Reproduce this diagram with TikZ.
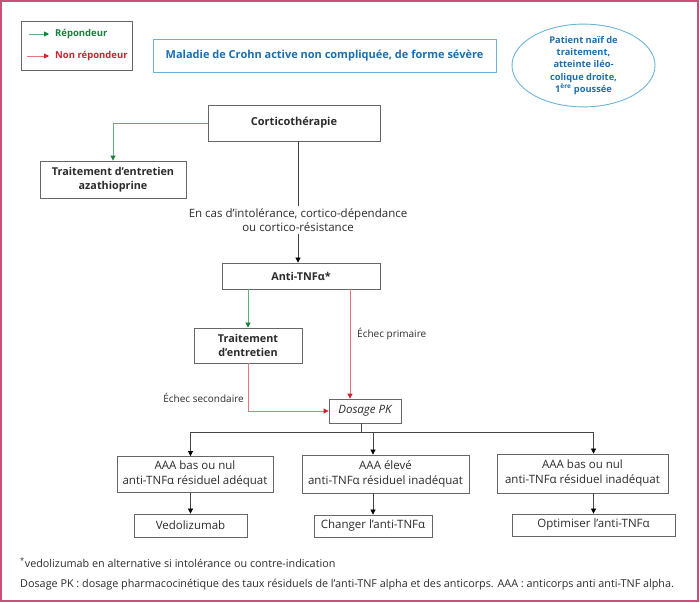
\documentclass[tikz,border=0pt]{standalone}
\usepackage{fontspec}
\setmainfont{Open Sans}
\usetikzlibrary{arrows.meta,shapes.geometric,calc}
\definecolor{framec}{HTML}{C94F77}
\definecolor{boxc}{HTML}{666666}
\definecolor{txt}{HTML}{2B2B2B}
\definecolor{tblue}{HTML}{1C6FAE}
\definecolor{tborder}{HTML}{6AB4D8}
\definecolor{gline}{HTML}{5CB07E}
\definecolor{gtip}{HTML}{17803A}
\definecolor{rline}{HTML}{E8737B}
\definecolor{rtip}{HTML}{D0202C}
\definecolor{lnc}{HTML}{444444}
\begin{document}
\begin{tikzpicture}[x=1pt,y=-1pt,
  box/.style={draw=boxc, line width=0.8pt, fill=white, inner sep=0pt, align=center, text=txt, font=\fontsize{11.5}{15}\selectfont},
  bbox/.style={box, font=\fontsize{10.8}{14.5}\selectfont\bfseries},
  plain/.style={inner sep=2pt, align=center, text=txt, font=\fontsize{10}{14}\selectfont},
  blkln/.style={draw=lnc, line width=0.7pt},
  blkarr/.style={blkln, -{Triangle[width=5pt,length=5pt,color=black,fill=black]}},
  grnarr/.style={draw=gline, line width=0.8pt, -{Triangle[width=5pt,length=5pt,color=gtip,fill=gtip]}},
  redarr/.style={draw=rline, line width=0.8pt, -{Triangle[width=5pt,length=5pt,color=rtip,fill=rtip]}}
]
\useasboundingbox (0,0) rectangle (700,602);
\draw[framec, line width=1.3pt] (1,1) rectangle (698,601);

% legend
\draw[draw=boxc, line width=0.8pt] (21,21) rectangle (132,70);
\coordinate (lg1a) at (29,34); \coordinate (lg1b) at (49,34);
\coordinate (lg2a) at (27,56); \coordinate (lg2b) at (49,56);
\draw[grnarr] (lg1a) -- (lg1b);
\draw[redarr] (lg2a) -- (lg2b);
\node[anchor=west, inner sep=0pt, text=gtip, font=\fontsize{9.5}{11}\selectfont\bfseries] (lgt1) at (55,34) {Répondeur};
\node[anchor=west, inner sep=0pt, text=rtip, font=\fontsize{9.5}{11}\selectfont\bfseries] (lgt2) at (55,56) {Non répondeur};

% title
\node[draw=tborder, line width=0.9pt, minimum width=343, minimum height=33, inner sep=0pt, text=tblue, font=\fontsize{11}{13}\selectfont\bfseries] (title) at (324.5,55.5) {Maladie de Crohn active non compliquée, de forme sévère};

% ellipse
\node[ellipse, draw=tborder, line width=0.9pt, minimum width=143, minimum height=77, inner sep=0pt, align=center, text=tblue, font=\fontsize{9.3}{12.3}\selectfont\bfseries] (pat) at (583.5,65.5) {Patient naïf de\\traitement,\\atteinte iléo-\\colique droite,\\1\textsuperscript{ère} poussée};

% main flow
\node[bbox, font=\fontsize{11}{14.5}\selectfont\bfseries, minimum width=172, minimum height=36] (cortico) at (294,123) {Corticothérapie};
\node[bbox, minimum width=146, minimum height=37] (aza) at (113,179.5) {Traitement d’entretien\\azathioprine};
\node[plain, font=\fontsize{11.5}{14}\selectfont] (lbl) at (298,220) {En cas d’intolérance, cortico-dépendance\\ou cortico-résistance};
\node[bbox, minimum width=158, minimum height=26] (anti) at (301,276) {Anti-TNFα*};
\node[bbox, minimum width=108, minimum height=35] (entr) at (248,345.5) {Traitement\\d’entretien};
\node[box, minimum width=72, minimum height=24, font=\fontsize{11.5}{13}\selectfont\itshape] (dos) at (365,411) {Dosage PK};
\node[plain, anchor=west] (lprim) at (355,334) {Échec primaire};
\node[plain, anchor=east] (lsec) at (246,398) {Échec secondaire};

\node[box, minimum width=156, minimum height=36] (A) at (195,474.5) {AAA bas ou nul\\anti-TNFα résiduel adéquat};
\node[box, minimum width=167, minimum height=38] (B) at (385.5,474) {AAA élevé\\anti-TNFα résiduel inadéquat};
\node[box, minimum width=171, minimum height=39] (C) at (582.5,473.5) {AAA bas ou nul\\anti-TNFα résiduel inadéquat};
\node[box, minimum width=113, minimum height=23] (vedo) at (190.5,525.5) {Vedolizumab};
\node[box, minimum width=118, minimum height=22] (chg) at (373,526) {Changer l’anti-TNFα};
\node[box, minimum width=163, minimum height=22] (opt) at (593.5,525) {Optimiser l’anti-TNFα};

% connectors
\draw[grnarr] (cortico.west) -| (aza.north);
\draw[blkln] (cortico.south -| lbl.north) -- (lbl.north);
\draw[blkarr] (lbl.south) -- (lbl.south |- anti.north);
\draw[grnarr] (anti.south -| entr.north) -- (entr.north);
\coordinate (rx) at (350,0);
\draw[redarr] (anti.south -| rx) -- (dos.north -| rx);
\draw[redarr] (entr.south) |- (dos.west);
\coordinate (sx) at (361,0);
\draw[blkln] (dos.south -| sx) -- ++(0,9) coordinate (br);
\draw[blkarr] (br) -| (vedo.north |- A.north);
\draw[blkarr] (br) -| (chg.north |- B.north);
\draw[blkarr] (br) -| (opt.north |- C.north);
\draw[blkarr] (vedo.north |- A.south) -- (vedo.north);
\draw[blkarr] (chg.north |- B.south) -- (chg.north);
\draw[blkarr] (opt.north |- C.south) -- (opt.north);

% footer
\node[anchor=west, inner sep=0pt, text=txt, font=\fontsize{10.8}{12}\selectfont] (f1) at (20,563) {\textsuperscript{*}vedolizumab en alternative si intolérance ou contre-indication};
\node[anchor=west, inner sep=0pt, text=txt, font=\fontsize{10.8}{12}\selectfont] (f2) at (20,585) {Dosage PK : dosage pharmacocinétique des taux résiduels de l’anti-TNF alpha et des anticorps. AAA : anticorps anti anti-TNF alpha.};
\end{tikzpicture}
\end{document}
